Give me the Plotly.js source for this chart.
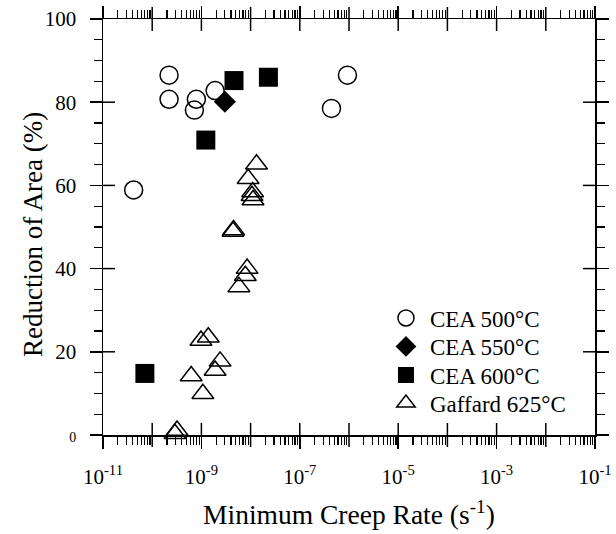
<!DOCTYPE html>
<html>
<head>
<meta charset="utf-8">
<script src="https://cdn.plot.ly/plotly-3.0.1.min.js"></script>
<style>html,body{margin:0;padding:0;background:#fff;}</style>
</head>
<body>
<div id="chart" style="width:616px;height:534px;"></div>
<script>
// Minimum creep rate (1/s) and reduction of area (%) per data set
const cea500Rate = [4.2e-11, 2.2e-10, 2.2e-10, 7.9e-10, 7.2e-10, 1.9e-9, 4.4e-7, 9.3e-7];
const cea500RA   = [58.9, 86.5, 80.7, 80.7, 78.1, 82.8, 78.5, 86.5];

const cea550Rate = [3.0e-9];
const cea550RA   = [80.1];

const cea600Rate = [7.1e-11, 1.23e-9, 4.6e-9, 2.3e-8];
const cea600RA   = [14.8, 70.9, 85.2, 86.0];

const gaffardRate = [1.32e-8, 8.9e-9, 1.1e-8, 1.07e-8, 1.12e-8, 4.5e-9, 4.4e-9, 8.5e-9, 7.8e-9,
                     5.8e-9, 1.38e-9, 9.8e-10, 2.4e-9, 1.9e-9, 6.2e-10, 1.07e-9, 3.2e-10, 2.9e-10];
const gaffardRA   = [65.1, 61.6, 58.4, 57.5, 56.5, 49.3, 48.9, 40.0, 38.3,
                     35.6, 23.5, 22.7, 17.7, 15.5, 14.2, 9.9, 1.1, 0.3];

const seriesNames = ['CEA 500°C', 'CEA 550°C', 'CEA 600°C', 'Gaffard 625°C'];

// Axis labelling
const xDecades = [-11, -10, -9, -8, -7, -6, -5, -4, -3, -2, -1];
const xLabelledDecades = [-11, -9, -7, -5, -3, -1];
const yTicks = [0, 20, 40, 60, 80, 100];
const xTitle = 'Minimum Creep Rate (s<sup>-1</sup>)';
const yTitle = 'Reduction of Area (%)';

const FONT = 'Liberation Serif, Times New Roman, serif';
const W = 616, H = 534;
const M = {l: 103, r: 21, t: 19, b: 99};
const plotW = W - M.l - M.r, plotH = H - M.t - M.b;
const MAJ = 12, MINLEN = 8;
const xSpan = xDecades[xDecades.length - 1] - xDecades[0];

const xTickVals = xLabelledDecades.map(d => Math.pow(10, d));
const xTickText = xLabelledDecades.map(d => '10<sup>-' + (-d) + '</sup>');
const xMinorVals = [];
xDecades.slice(0, -1).forEach(d => { for (let m = 2; m <= 9; m++) xMinorVals.push(m * Math.pow(10, d)); });
const yTickText = yTicks.map(v => v === 0 ? '<span style="font-size:14px">0</span>' : String(v));

const common = {type: 'scatter', mode: 'markers', cliponaxis: false, hoverinfo: 'skip'};
const data = [
  Object.assign({}, common, {x: cea500Rate, y: cea500RA, name: seriesNames[0], legend: 'legend',
    marker: {symbol: 'circle-open', size: 18, color: '#000', line: {width: 1.5, color: '#000'}}}),
  Object.assign({}, common, {x: cea550Rate, y: cea550RA, name: seriesNames[1], legend: 'legend2',
    marker: {symbol: 'diamond', size: 17, color: '#000'}}),
  Object.assign({}, common, {x: cea600Rate, y: cea600RA, name: seriesNames[2], legend: 'legend3',
    marker: {symbol: 'square', size: 19, color: '#000'}}),
  Object.assign({}, common, {x: gaffardRate, y: gaffardRA, name: seriesNames[3], legend: 'legend4',
    marker: {symbol: 'triangle-up-open', size: 19, color: '#000', line: {width: 1.5, color: '#000'}}})
];

// Major ticks cross the frame: inner halves for labelled decades / y majors,
// full crossing ticks for the unlabelled decades.
const shapes = [];
const tickLine = {type: 'line', xref: 'x domain', yref: 'y domain', line: {color: '#000', width: 1.5}, layer: 'above'};
const hx = MAJ / plotW, hy = MAJ / plotH;
xDecades.slice(1, -1).forEach(d => {
  const f = (d - xDecades[0]) / xSpan;
  const labelled = xLabelledDecades.includes(d);
  shapes.push(Object.assign({}, tickLine, {x0: f, x1: f, y0: labelled ? 0 : -hy, y1: hy}));
  shapes.push(Object.assign({}, tickLine, {x0: f, x1: f, y0: labelled ? 1 : 1 + hy, y1: 1 - hy}));
});
yTicks.slice(1, -1).forEach(v => {
  const f = v / 100;
  shapes.push(Object.assign({}, tickLine, {x0: 0, x1: hx, y0: f, y1: f}));
  shapes.push(Object.assign({}, tickLine, {x0: 1, x1: 1 - hx, y0: f, y1: f}));
});

function legendAt(py) {
  return {
    x: 0.567, xanchor: 'left', y: (H - M.b - py) / plotH, yanchor: 'middle',
    bgcolor: 'rgba(0,0,0,0)', borderwidth: 0, itemwidth: 38,
    font: {family: FONT, size: 23, color: '#000'}
  };
}

const layout = {
  width: W, height: H, margin: M,
  paper_bgcolor: '#fff', plot_bgcolor: '#fff',
  font: {family: FONT, size: 21, color: '#000'},
  showlegend: true,
  legend: legendAt(318),
  legend2: legendAt(346.5),
  legend3: legendAt(375),
  legend4: legendAt(403),
  xaxis: {
    type: 'log', range: [xDecades[0], xDecades[xDecades.length - 1]], autorange: false,
    tickmode: 'array', tickvals: xTickVals, ticktext: xTickText,
    ticks: 'outside', ticklen: MAJ, tickwidth: 1.5, tickcolor: '#000',
    minor: {tickmode: 'array', tickvals: xMinorVals, ticks: 'outside', ticklen: MINLEN, tickwidth: 1.2, tickcolor: '#000', showgrid: false},
    showline: true, linecolor: '#000', linewidth: 1.5, mirror: 'ticks',
    showgrid: false, zeroline: false,
    tickfont: {family: FONT, size: 21, color: '#000'}, ticklabelstandoff: 10,
    title: {text: xTitle, font: {family: FONT, size: 27.5, color: '#000'}, standoff: 17}
  },
  yaxis: {
    range: [0, 100], autorange: false,
    tickmode: 'array', tickvals: yTicks, ticktext: yTickText,
    ticks: 'outside', ticklen: MAJ, tickwidth: 1.5, tickcolor: '#000',
    minor: {dtick: 5, ticks: 'outside', ticklen: MINLEN, tickwidth: 1.2, tickcolor: '#000', showgrid: false},
    showline: true, linecolor: '#000', linewidth: 1.5, mirror: 'ticks',
    showgrid: false, zeroline: false,
    tickfont: {family: FONT, size: 21, color: '#000'}, ticklabelstandoff: 9
  },
  annotations: [{
    text: yTitle, textangle: -90, showarrow: false,
    xref: 'paper', yref: 'paper', x: (33 - M.l) / plotW, y: 0.481,
    xanchor: 'center', yanchor: 'middle',
    font: {family: FONT, size: 27, color: '#000'}
  }],
  shapes: shapes
};

Plotly.newPlot('chart', data, layout, {staticPlot: true, displayModeBar: false});
</script>
</body>
</html>
